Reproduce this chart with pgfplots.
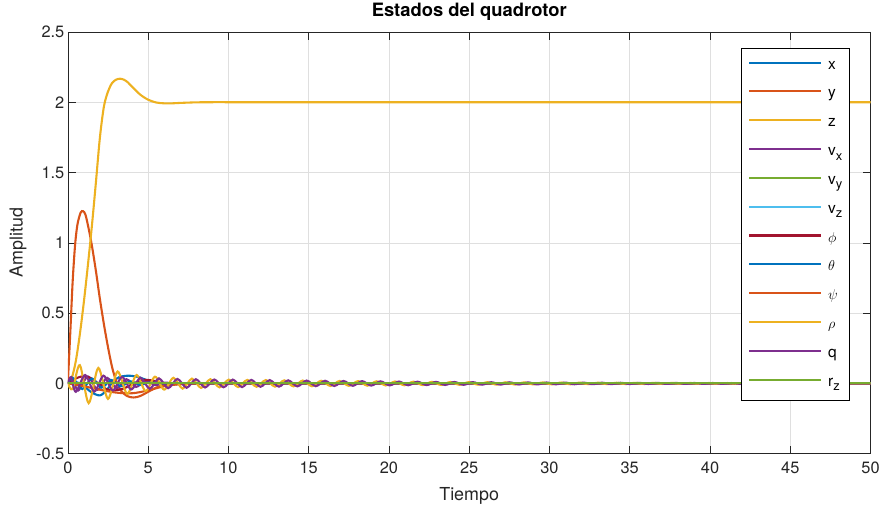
\documentclass[border=0pt]{standalone}
\usepackage{pgfplots}
\pgfplotsset{compat=1.18}
\usepackage{pgfplotstable}
\usepackage{fontspec}
\setmainfont{TeX Gyre Heros}

\definecolor{c1}{rgb}{0,0.447,0.741}
\definecolor{c2}{rgb}{0.850,0.325,0.098}
\definecolor{c3}{rgb}{0.929,0.694,0.125}
\definecolor{c4}{rgb}{0.494,0.184,0.556}
\definecolor{c5}{rgb}{0.466,0.674,0.188}
\definecolor{c6}{rgb}{0.301,0.745,0.933}
\definecolor{c7}{rgb}{0.635,0.078,0.184}
\definecolor{axisgray}{rgb}{0.15,0.15,0.15}
\definecolor{gridgray}{rgb}{0.875,0.875,0.875}

% posicion x
\pgfplotstableread{
t v
0 0
0.5 0.01
1.0 -0.02
1.5 -0.065
2.0 -0.085
2.4 -0.05
2.8 0.01
3.2 0.045
3.8 0.055
4.4 0.045
5.0 0.02
5.6 0.0
6.2 -0.01
7.0 -0.004
8.0 0
9 0
10 0
12 0
15 0
20 0
25 0
30 0
40 0
50 0
}\tblx

% posicion y
\pgfplotstableread{
t v
0 0
0.15 0.35
0.3 0.72
0.45 0.98
0.6 1.13
0.8 1.215
0.95 1.225
1.1 1.2
1.3 1.1
1.5 0.98
1.75 0.8
2.0 0.6
2.25 0.42
2.5 0.26
2.75 0.12
3.0 0.02
3.3 -0.05
3.7 -0.09
4.1 -0.1
4.5 -0.09
5.0 -0.06
5.5 -0.03
6.0 -0.012
7.0 0
8 0
9 0
10 0
12 0
15 0
20 0
25 0
30 0
40 0
50 0
}\tbly

% posicion z
\pgfplotstableread{
t v
0 0
0.25 0.04
0.5 0.16
0.75 0.35
1.0 0.58
1.25 0.84
1.5 1.12
1.75 1.43
2.0 1.75
2.25 1.97
2.5 2.075
2.75 2.135
3.0 2.16
3.25 2.167
3.5 2.16
3.75 2.14
4.0 2.11
4.5 2.055
5.0 2.018
5.5 1.998
6.0 1.992
6.5 1.992
7.0 1.995
8.0 1.999
9.0 2.0
10 2.0
12 2.0
15 2.0
20 2.0
25 2.0
30 2.0
40 2.0
50 2.0
}\tblz

% velocidad vx
\pgfplotstableread{
t v
0 0
0.25 0.04
0.65 -0.05
1.25 0.05
1.85 -0.045
2.45 0.04
3.05 -0.035
3.65 0.03
4.25 -0.025
4.85 0.02
5.45 -0.012
6.05 0.006
6.65 -0.003
7.3 0
8 0
9 0
10 0
12 0
15 0
20 0
25 0
30 0
40 0
50 0
}\tblvx

% velocidades vy, vz y rz
\pgfplotstableread{
t v
0 0
50 0
}\tblzero

% angulo phi
\pgfplotstableread{
t v
0 0
0.4 0.03
0.9 0.05
1.4 0.04
1.9 0.0
2.4 -0.04
2.9 -0.05
3.5 -0.035
4.1 0.0
4.7 0.025
5.3 0.02
6.0 0.0
7 -0.004
8 0
9 0
10 0
12 0
15 0
20 0
25 0
30 0
40 0
50 0
}\tblphi

% angulo theta
\pgfplotstableread{
t v
0 0
0.3 0.04
0.9 -0.04
1.5 0.035
2.1 -0.03
2.7 0.025
3.3 -0.02
3.9 0.015
4.5 -0.01
5.1 0.006
6 0
7 0
8 0
10 0
12 0
15 0
20 0
25 0
30 0
40 0
50 0
}\tbltheta

% angulo psi
\pgfplotstableread{
t v
0 0
0.5 -0.01
1.0 -0.02
2.0 -0.045
3.0 -0.065
4.0 -0.07
5.0 -0.05
6.0 -0.02
7.0 -0.005
8 0
9 0
10 0
12 0
15 0
20 0
25 0
30 0
40 0
50 0
}\tblpsi

% velocidad angular rho
\pgfplotstableread{
t v
0 0
0.3 -0.04
0.75 0.13
1.3 -0.14
1.9 0.11
2.5 -0.11
3.1 0.085
3.7 -0.075
4.28 0.06
4.85 -0.055
5.43 0.048
6.0 -0.044
6.58 0.04
7.15 -0.037
7.73 0.034
8.3 -0.032
8.88 0.03
9.45 -0.028
10.03 0.027
10.605 -0.026
11.18 0.025
11.755 -0.024
12.33 0.024
12.905 -0.023
13.48 0.022
14.055 -0.021
14.63 0.0205
15.205 -0.020
15.78 0.019
16.355 -0.018
16.93 0.0175
17.505 -0.017
18.08 0.0165
18.655 -0.016
19.23 0.015
19.805 -0.0142
20.38 0.0137
20.955 -0.013
21.53 0.0125
22.105 -0.012
22.68 0.0115
23.255 -0.011
23.83 0.0105
24.405 -0.010
24.98 0.0095
25.555 -0.009
26.13 0.0088
26.705 -0.0085
27.28 0.0082
27.855 -0.0078
28.43 0.0075
29.005 -0.0072
29.58 0.0068
30.155 -0.0065
30.73 0.0063
31.305 -0.006
31.88 0.0058
32.455 -0.0055
33.03 0.0052
33.605 -0.005
34.18 0.0048
34.755 -0.0046
35.33 0.0044
35.905 -0.0042
36.48 0.004
37.055 -0.0038
37.63 0.0036
38.205 -0.0034
38.78 0.0032
39.355 -0.0031
39.93 0.003
40.505 -0.0029
41.08 0.0028
41.655 -0.0027
42.23 0.0026
42.805 -0.0025
43.38 0.0024
43.955 -0.0023
44.53 0.0022
45.3 0
46.5 0
48 0
50 0
}\tblrho

% velocidad angular q
\pgfplotstableread{
t v
0 0
0.2 0.045
0.5 -0.06
1.075 0.06
1.65 -0.058
2.225 0.055
2.8 -0.05
3.375 0.046
3.95 -0.043
4.525 0.04
5.1 -0.038
5.675 0.036
6.25 -0.034
6.825 0.032
7.4 -0.031
7.975 0.03
8.55 -0.029
9.125 0.028
9.7 -0.0275
10.275 0.027
10.85 -0.026
11.425 0.025
12.0 -0.024
12.575 0.0235
13.15 -0.023
13.725 0.022
14.3 -0.021
14.875 0.0205
15.45 -0.0195
16.025 0.019
16.6 -0.018
17.175 0.0175
17.75 -0.017
18.325 0.0165
18.9 -0.0155
19.475 0.015
20.05 -0.014
20.625 0.0135
21.2 -0.013
21.775 0.0125
22.35 -0.012
22.925 0.0113
23.5 -0.011
24.075 0.0105
24.65 -0.010
25.225 0.0095
25.8 -0.009
26.375 0.0087
26.95 -0.0084
27.525 0.008
28.1 -0.0077
28.675 0.0074
29.25 -0.007
29.825 0.0067
30.4 -0.0064
30.975 0.0062
31.55 -0.006
32.125 0.0057
32.7 -0.0054
33.275 0.0052
33.85 -0.005
34.425 0.0048
35.0 -0.0045
35.575 0.0043
36.15 -0.0041
36.725 0.0039
37.3 -0.0037
37.875 0.0035
38.45 -0.0033
39.025 0.0032
39.6 -0.0031
40.175 0.003
40.75 -0.0029
41.325 0.0028
41.9 -0.0027
42.475 0.0026
43.05 -0.0025
43.625 0.0024
44.2 -0.0023
44.775 0.0022
45.5 0
46.5 0
48 0
50 0
}\tblq

\newcommand{\sub}[2]{#1\raisebox{-0.55ex}{\fontsize{13}{13}\selectfont #2}}

\begin{document}
\begin{tikzpicture}
\begin{axis}[
  scale only axis,
  width=805bp, height=423bp,
  xmin=0, xmax=50, ymin=-0.5, ymax=2.5,
  xtick={0,5,...,50},
  ytick={-0.5,0,0.5,1,1.5,2,2.5},
  tick align=inside,
  major tick length=8bp,
  grid=major,
  major grid style={gridgray, line width=0.6pt},
  axis line style={axisgray, line width=0.6pt},
  every tick/.style={axisgray, line width=0.6pt},
  tick label style={font=\fontsize{16.5}{19}\selectfont, color=axisgray},
  xticklabel style={yshift=-5bp},
  /pgf/number format/assume math mode=true,
  yticklabel style={/pgf/number format/fixed},
  title={Estados del quadrotor},
  title style={font=\bfseries\fontsize{18.5}{22}\selectfont, at={(axis description cs:0.5,1.0213)}, anchor=base, inner sep=0pt},
  xlabel={Tiempo},
  ylabel={Amplitud},
  label style={font=\fontsize{18}{21}\selectfont, color=axisgray},
  xlabel style={at={(axis description cs:0.5,-0.1)}, anchor=center},
  ylabel style={at={(axis description cs:-0.062,0.5)}, anchor=center},
  legend cell align=left,
  legend style={at={(1,1)}, anchor=north east, xshift=-21bp, yshift=-16bp,
    draw=black, line width=0.6pt, fill=white,
    font=\fontsize{15.5}{18}\selectfont,
    inner xsep=7bp, inner ysep=9bp,
    row sep=11.9bp,
    nodes={inner sep=0pt, text height=12bp, text depth=5bp},
    /tikz/every odd column/.append style={column sep=6bp}},
  legend image code/.code={\draw[#1, line width=2.1pt] (0bp,3bp) -- (72bp,3bp);},
  every axis plot/.append style={line width=2.1pt, smooth},
]
\addplot[c1] table[x=t, y=v] {\tblx};
\addlegendentry{x}
\addplot[c2] table[x=t, y=v] {\tbly};
\addlegendentry{y}
\addplot[c3] table[x=t, y=v] {\tblz};
\addlegendentry{z}
\addplot[c4] table[x=t, y=v] {\tblvx};
\addlegendentry{\sub{v}{x}}
\addplot[c5] table[x=t, y=v] {\tblzero};
\addlegendentry{\sub{v}{y}}
\addplot[c6] table[x=t, y=v] {\tblzero};
\addlegendentry{\sub{v}{z}}
\addplot[c7] table[x=t, y=v] {\tblphi};
\addlegendentry{$\phi$}
\addplot[c1] table[x=t, y=v] {\tbltheta};
\addlegendentry{$\theta$}
\addplot[c2] table[x=t, y=v] {\tblpsi};
\addlegendentry{$\psi$}
\addplot[c3] table[x=t, y=v] {\tblrho};
\addlegendentry{$\rho$}
\addplot[c4] table[x=t, y=v] {\tblq};
\addlegendentry{q}
\addplot[c5] table[x=t, y=v] {\tblzero};
\addlegendentry{\sub{r}{z}}
\end{axis}
\path (current axis.south west) ++(-68bp,-53bp) rectangle ([xshift=10bp,yshift=32bp]current axis.north east);
\end{tikzpicture}
\end{document}
